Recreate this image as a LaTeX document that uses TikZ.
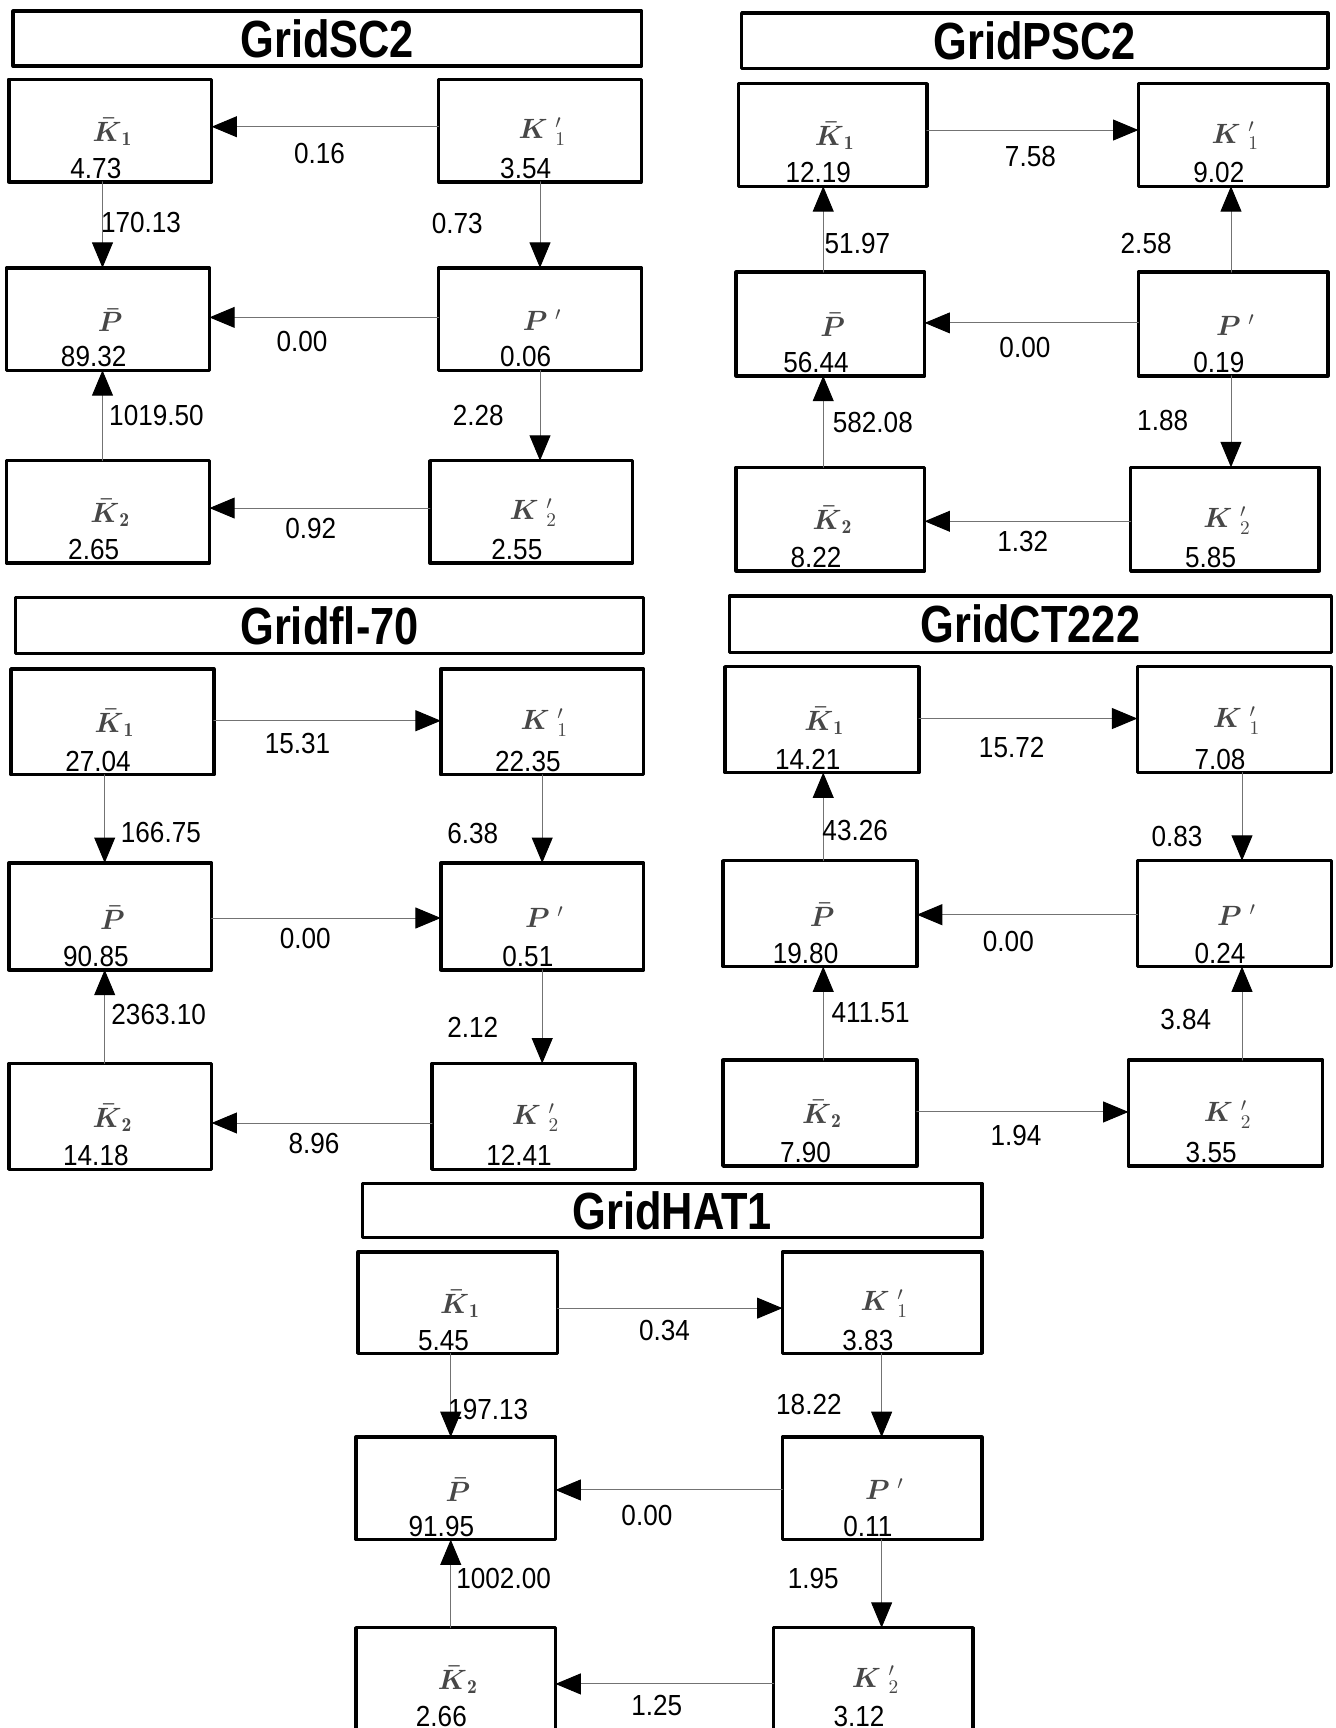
\documentclass[tikz,border=0pt]{standalone}
\usepackage{amsmath}
\usepackage{fontspec}
\newfontfamily\numfont{Liberation Sans}[FakeStretch=0.9]
\newfontfamily\headfont{Liberation Sans}[FakeStretch=0.83]
\usetikzlibrary{arrows.meta,fit,calc}

\begin{document}
\begin{tikzpicture}[x=0.02cm, y=-0.02cm, line cap=round, line join=round]

% ---------------- styles ----------------
\tikzset{
  gbox/.style    ={draw, line width=1.8pt, inner sep=0pt, outer sep=0pt},
  headtext/.style={font=\headfont\bfseries\fontsize{27}{30}\selectfont, inner sep=0pt},
  symb/.style    ={text=black!72, font=\fontsize{14.5}{16}\selectfont, inner sep=0pt},
  val/.style     ={font=\numfont\fontsize{15}{17}\selectfont, inner sep=0pt},
  elab/.style    ={font=\numfont\fontsize{15}{17}\selectfont, inner sep=0pt},
  conn/.style    ={draw=black!55, line width=0.5pt,
                   -{Triangle[length=0.46cm, width=0.38cm, color=black]}}
}

% ---------------- symbols ----------------
\newcommand{\Kbar}[1]{$\boldsymbol{\bar{K}}_{\mathbf{#1}}$}
\newcommand{\Kpr}[1]{$\boldsymbol{K}\;{}'_{#1}$}
\newcommand{\Pbar}{$\boldsymbol{\bar{P}}$}
\newcommand{\Ppr}{$\boldsymbol{P}\;{}'$}

% helper: one state box from corner (x1,y1) to (x2,y2), symbol and value
\newcommand{\GBox}[7]{%
  \path (#2,#3) coordinate (#1-nw) (#4,#5) coordinate (#1-se);
  \node[gbox, fit=(#1-nw)(#1-se)] (#1) {};
  \node[symb] (#1-sym) at ($(#1.center)+(2,1)$) {#6};
  \node[val, anchor=base] (#1-val) at ($(#1.south)+(-13,-3)$) {#7};
}
% helper: panel heading
\newcommand{\GHead}[6]{%
  \path (#2,#3) coordinate (#1-nw) (#4,#5) coordinate (#1-se);
  \node[gbox, fit=(#1-nw)(#1-se)] (#1) {};
  \node[headtext] (#1-txt) at (#1.center) {#6};
}

\useasboundingbox (0,0) rectangle (1212,1568);

% ---------------- GridSC2 ----------------
\GHead{scT}{12}{10}{582}{60}{GridSC2}
\GBox{scKb1}{8}{72}{192}{165}{\Kbar1}{4.73}
\GBox{scKp1}{398}{72}{582}{165}{\Kpr1}{3.54}
\GBox{scPb}{6}{243}{190}{336}{\Pbar}{89.32}
\GBox{scPp}{398}{243}{582}{336}{\Ppr}{0.06}
\GBox{scKb2}{6}{418}{190}{511}{\Kbar2}{2.65}
\GBox{scKp2}{390}{418}{574}{511}{\Kpr2}{2.55}

\draw[conn] (scKp1.west |- 0,115) -- (scKb1.east |- 0,115) node[elab] at (290,139) {0.16};
\draw[conn] (93,0 |- scKb1.south) -- (93,0 |- scPb.north) node[elab] at (128,202) {170.13};
\draw[conn] (490,0 |- scKp1.south) -- (490,0 |- scPp.north) node[elab] at (415,203) {0.73};
\draw[conn] (scPp.west |- 0,288) -- (scPb.east |- 0,288) node[elab] at (274,310) {0.00};
\draw[conn] (93,0 |- scKb2.north) -- (93,0 |- scPb.south) node[elab] at (142,377) {1019.50};
\draw[conn] (490,0 |- scPp.south) -- (490,0 |- scKp2.north) node[elab] at (434,377) {2.28};
\draw[conn] (scKp2.west |- 0,461) -- (scKb2.east |- 0,461) node[elab] at (282,480) {0.92};

% ---------------- GridPSC2 ----------------
\GHead{psT}{673}{12}{1205}{62}{GridPSC2}
\GBox{psKb1}{670}{76}{841}{169}{\Kbar1}{12.19}
\GBox{psKp1}{1033}{76}{1205}{169}{\Kpr1}{9.02}
\GBox{psPb}{668}{247}{839}{341}{\Pbar}{56.44}
\GBox{psPp}{1033}{247}{1205}{341}{\Ppr}{0.19}
\GBox{psKb2}{668}{424}{839}{518}{\Kbar2}{8.22}
\GBox{psKp2}{1026}{424}{1197}{518}{\Kpr2}{5.85}

\draw[conn] (psKb1.east |- 0,118) -- (psKp1.west |- 0,118) node[elab] at (935,142) {7.58};
\draw[conn] (747,0 |- psPb.north) -- (747,0 |- psKb1.south) node[elab] at (778,221) {51.97};
\draw[conn] (1117,0 |- psPp.north) -- (1117,0 |- psKp1.south) node[elab] at (1040,221) {2.58};
\draw[conn] (psPp.west |- 0,293) -- (psPb.east |- 0,293) node[elab] at (930,315) {0.00};
\draw[conn] (747,0 |- psKb2.north) -- (747,0 |- psPb.south) node[elab] at (792,383) {582.08};
\draw[conn] (1117,0 |- psPp.south) -- (1117,0 |- psKp2.north) node[elab] at (1055,382) {1.88};
\draw[conn] (psKp2.west |- 0,473) -- (psKb2.east |- 0,473) node[elab] at (928,491) {1.32};

% ---------------- Gridfl-70 ----------------
\GHead{flT}{14}{542}{584}{593}{Gridfl-70}
\GBox{flKb1}{10}{607}{194}{703}{\Kbar1}{27.04}
\GBox{flKp1}{400}{607}{584}{703}{\Kpr1}{22.35}
\GBox{flPb}{8}{783}{192}{880}{\Pbar}{90.85}
\GBox{flPp}{400}{783}{584}{880}{\Ppr}{0.51}
\GBox{flKb2}{8}{965}{192}{1061}{\Kbar2}{14.18}
\GBox{flKp2}{392}{965}{576}{1061}{\Kpr2}{12.41}

\draw[conn] (flKb1.east |- 0,654) -- (flKp1.west |- 0,654) node[elab] at (270,675) {15.31};
\draw[conn] (95,0 |- flKb1.south) -- (95,0 |- flPb.north) node[elab] at (146,755) {166.75};
\draw[conn] (492,0 |- flKp1.south) -- (492,0 |- flPp.north) node[elab] at (429,756) {6.38};
\draw[conn] (flPb.east |- 0,833) -- (flPp.west |- 0,833) node[elab] at (277,852) {0.00};
\draw[conn] (95,0 |- flKb2.north) -- (95,0 |- flPb.south) node[elab] at (144,921) {2363.10};
\draw[conn] (492,0 |- flPp.south) -- (492,0 |- flKp2.north) node[elab] at (429,932) {2.12};
\draw[conn] (flKp2.west |- 0,1019) -- (flKb2.east |- 0,1019) node[elab] at (285,1038) {8.96};

% ---------------- GridCT222 ----------------
\GHead{ctT}{662}{541}{1208}{592}{GridCT222}
\GBox{ctKb1}{658}{605}{834}{701}{\Kbar1}{14.21}
\GBox{ctKp1}{1032}{605}{1208}{701}{\Kpr1}{7.08}
\GBox{ctPb}{656}{781}{832}{877}{\Pbar}{19.80}
\GBox{ctPp}{1032}{781}{1208}{877}{\Ppr}{0.24}
\GBox{ctKb2}{656}{962}{832}{1058}{\Kbar2}{7.90}
\GBox{ctKp2}{1024}{962}{1200}{1058}{\Kpr2}{3.55}

\draw[conn] (ctKb1.east |- 0,652) -- (ctKp1.west |- 0,652) node[elab] at (918,678) {15.72};
\draw[conn] (747,0 |- ctPb.north) -- (747,0 |- ctKb1.south) node[elab] at (776,754) {43.26};
\draw[conn] (1127,0 |- ctKp1.south) -- (1127,0 |- ctPp.north) node[elab] at (1068,759) {0.83};
\draw[conn] (ctPp.west |- 0,830) -- (ctPb.east |- 0,830) node[elab] at (915,854) {0.00};
\draw[conn] (747,0 |- ctKb2.north) -- (747,0 |- ctPb.south) node[elab] at (790,919) {411.51};
\draw[conn] (1127,0 |- ctKp2.north) -- (1127,0 |- ctPp.south) node[elab] at (1076,925) {3.84};
\draw[conn] (ctKb2.east |- 0,1009) -- (ctKp2.west |- 0,1009) node[elab] at (922,1030) {1.94};

% ---------------- GridHAT1 ----------------
\GHead{haT}{329}{1074}{891}{1123}{GridHAT1}
\GBox{haKb1}{325}{1136}{506}{1228}{\Kbar1}{5.45}
\GBox{haKp1}{710}{1136}{891}{1228}{\Kpr1}{3.83}
\GBox{haPb}{323}{1304}{504}{1397}{\Pbar}{91.95}
\GBox{haPp}{710}{1304}{891}{1397}{\Ppr}{0.11}
\GBox{haKb2}{323}{1477}{504}{1570}{\Kbar2}{2.66}
\GBox{haKp2}{702}{1477}{883}{1570}{\Kpr2}{3.12}

\draw[conn] (haKb1.east |- 0,1187) -- (haKp1.west |- 0,1187) node[elab] at (603,1207) {0.34};
\draw[conn] (409,0 |- haKb1.south) -- (409,0 |- haPb.north) node[elab] at (443,1279) {197.13};
\draw[conn] (800,0 |- haKp1.south) -- (800,0 |- haPp.north) node[elab] at (734,1274) {18.22};
\draw[conn] (haPp.west |- 0,1352) -- (haPb.east |- 0,1352) node[elab] at (587,1375) {0.00};
\draw[conn] (409,0 |- haKb2.north) -- (409,0 |- haPb.south) node[elab] at (457,1432) {1002.00};
\draw[conn] (800,0 |- haPp.south) -- (800,0 |- haKp2.north) node[elab] at (738,1432) {1.95};
\draw[conn] (haKp2.west |- 0,1528) -- (haKb2.east |- 0,1528) node[elab] at (596,1548) {1.25};

\end{tikzpicture}
\end{document}
